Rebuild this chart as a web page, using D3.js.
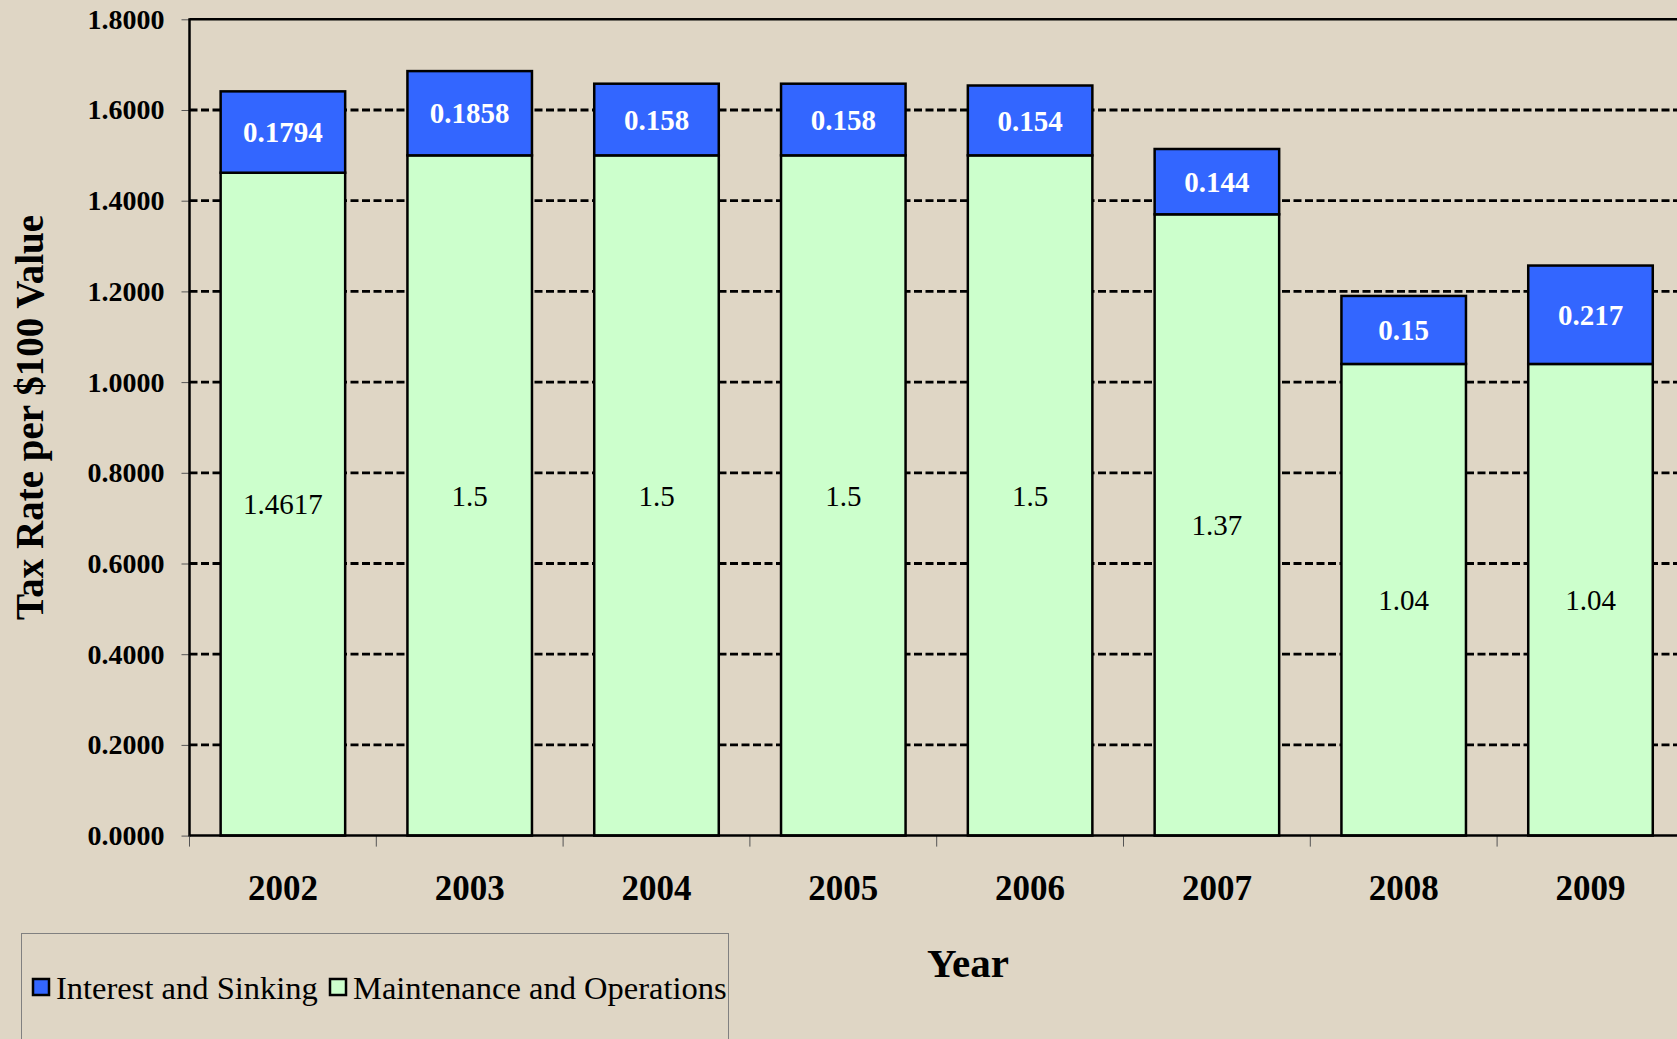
<!DOCTYPE html>
<html>
<head>
<meta charset="utf-8">
<script src="https://cdn.jsdelivr.net/npm/d3@7"></script>
<style>
html,body{margin:0;padding:0;background:#DFD6C5;overflow:hidden;}
svg{display:block;}
text{font-family:"Liberation Serif","Times New Roman",serif;}
</style>
</head>
<body>
<svg id="chart" width="1677" height="1039"></svg>
<script>
const years = ["2002","2003","2004","2005","2006","2007","2008","2009"];
const maintenance = [1.4617, 1.5, 1.5, 1.5, 1.5, 1.37, 1.04, 1.04];
const interest = [0.1794, 0.1858, 0.158, 0.158, 0.154, 0.144, 0.15, 0.217];
const maintLabels = ["1.4617","1.5","1.5","1.5","1.5","1.37","1.04","1.04"];
const interestLabels = ["0.1794","0.1858","0.158","0.158","0.154","0.144","0.15","0.217"];
const yTicks = [0,0.2,0.4,0.6,0.8,1.0,1.2,1.4,1.6,1.8];
const seriesNames = ["Interest and Sinking","Maintenance and Operations"];

const BLUE = "#3366FF", GREEN = "#CCFFCC", BG = "#DFD6C5";
const svg = d3.select("#chart");
svg.append("rect").attr("width",1677).attr("height",1039).attr("fill",BG);

const x0 = 189.5, x1 = 189.5 + 8*186.8;
const yTop = 19.3, yBot = 835.6;
const y = d3.scaleLinear().domain([0,1.8]).range([yBot,yTop]);
const x = d3.scaleBand().domain(years).range([x0,x1]).paddingInner(1/3).paddingOuter(1/6);
const step = x.step();
const bw = x.bandwidth();

// gridlines (dashed)
svg.append("g").selectAll("line").data(yTicks.filter(v=>v>0 && v<1.8)).join("line")
  .attr("x1",x0).attr("x2",x1).attr("y1",d=>y(d)).attr("y2",d=>y(d))
  .attr("stroke","#000").attr("stroke-width",2.8).attr("stroke-dasharray","8,3.5");

// plot border top & right
svg.append("line").attr("x1",x0).attr("x2",x1).attr("y1",y(1.8)).attr("y2",y(1.8)).attr("stroke","#000").attr("stroke-width",2.5);
svg.append("line").attr("x1",x1).attr("x2",x1).attr("y1",y(1.8)).attr("y2",y(0)).attr("stroke","#000").attr("stroke-width",2.5);

// y axis
const yAxis = d3.axisLeft(y).tickValues(yTicks).tickFormat(d3.format(".4f")).tickSize(8).tickPadding(17);
const gy = svg.append("g").attr("transform",`translate(${x0},0)`).call(yAxis);
gy.select(".domain").remove();
gy.selectAll(".tick line").attr("stroke","#555").attr("stroke-width",1);
gy.selectAll(".tick text").attr("font-family","Liberation Serif, Times New Roman, serif")
  .attr("font-size",28).attr("font-weight","bold").attr("fill","#000");
svg.append("line").attr("x1",x0).attr("x2",x0).attr("y1",y(1.8)-1).attr("y2",y(0)+1).attr("stroke","#000").attr("stroke-width",2.5);

// x ticks at band boundaries
const boundaries = years.map(d => x(d) - step*x.paddingOuter()).concat([x1]);
svg.append("g").selectAll("line").data(boundaries).join("line")
  .attr("x1",d=>d).attr("x2",d=>d).attr("y1",y(0)).attr("y2",y(0)+11)
  .attr("stroke","#555").attr("stroke-width",1);

// bars
const data = years.map((yr,i)=>({yr, m:maintenance[i], s:interest[i], ml:maintLabels[i], sl:interestLabels[i]}));
const g = svg.append("g");
g.selectAll("rect.m").data(data).join("rect").attr("class","m")
  .attr("x",d=>x(d.yr)).attr("width",bw)
  .attr("y",d=>y(d.m)).attr("height",d=>y(0)-y(d.m))
  .attr("fill",GREEN).attr("stroke","#000").attr("stroke-width",2.5);
g.selectAll("rect.s").data(data).join("rect").attr("class","s")
  .attr("x",d=>x(d.yr)).attr("width",bw)
  .attr("y",d=>y(d.m+d.s)).attr("height",d=>y(d.m)-y(d.m+d.s))
  .attr("fill",BLUE).attr("stroke","#000").attr("stroke-width",2.5);

// x axis line
svg.append("line").attr("x1",x0).attr("x2",x1).attr("y1",y(0)).attr("y2",y(0)).attr("stroke","#000").attr("stroke-width",2.5);

// labels
g.selectAll("text.ml").data(data).join("text").attr("class","ml")
  .attr("x",d=>x(d.yr)+bw/2).attr("y",d=>y(d.m/2)).attr("dy","0.35em")
  .attr("text-anchor","middle").attr("font-size",29).attr("fill","#000").text(d=>d.ml);
g.selectAll("text.sl").data(data).join("text").attr("class","sl")
  .attr("x",d=>x(d.yr)+bw/2).attr("y",d=>y(d.m+d.s/2)).attr("dy","0.35em")
  .attr("text-anchor","middle").attr("font-size",29).attr("font-weight","bold").attr("fill","#fff").text(d=>d.sl);

// x labels
svg.append("g").selectAll("text").data(years).join("text")
  .attr("x",d=>x(d)+bw/2).attr("y",900).attr("text-anchor","middle")
  .attr("font-size",35).attr("font-weight","bold").attr("fill","#000").text(d=>d);

// axis titles
svg.append("text").attr("transform","translate(43,417.5) rotate(-90)").attr("text-anchor","middle")
  .attr("font-size",39).attr("font-weight","bold").attr("fill","#000").text("Tax Rate per $100 Value");
svg.append("text").attr("x",968).attr("y",977).attr("text-anchor","middle")
  .attr("font-size",41).attr("font-weight","bold").attr("fill","#000").text("Year");

// legend
const lg = svg.append("g");
lg.append("rect").attr("x",21.5).attr("y",933.5).attr("width",707).attr("height",130)
  .attr("fill","none").attr("stroke","#808080").attr("stroke-width",1);
const legendItems = [{name:seriesNames[0],color:BLUE,x:33,tx:56},{name:seriesNames[1],color:GREEN,x:330,tx:353}];
legendItems.forEach(it=>{
  lg.append("rect").attr("x",it.x).attr("y",979).attr("width",16).attr("height",16)
    .attr("fill",it.color).attr("stroke","#000").attr("stroke-width",2.5);
  lg.append("text").attr("x",it.tx).attr("y",999).attr("font-size",32.5).attr("fill","#000").text(it.name);
});
</script>
</body>
</html>
